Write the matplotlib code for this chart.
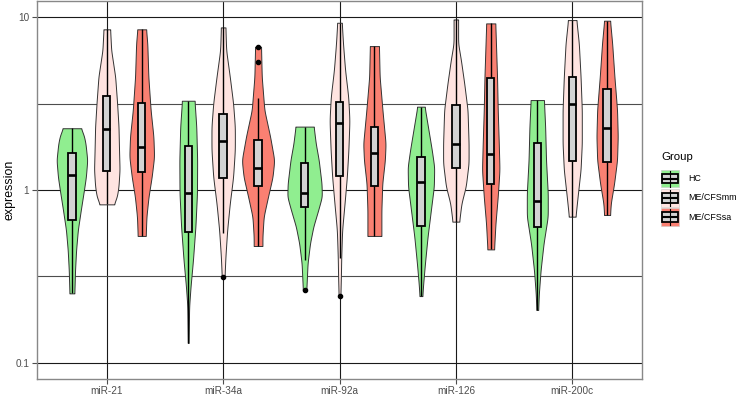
import numpy as np
import matplotlib
matplotlib.use("Agg")
import matplotlib.pyplot as plt
from matplotlib.patches import Rectangle

plt.rcParams['font.family'] = ['Liberation Sans', 'DejaVu Sans']

genes = ["miR-21", "miR-34a", "miR-92a", "miR-126", "miR-200c"]
groups = ["HC", "ME/CFSmm", "ME/CFSsa"]
group_colors = ["#90EE90", "#FFE4E1", "#FA8072"]

# ---- box statistics (per group, one value per gene) ----
hc_lower = [0.252, 0.130, 0.393, 0.243, 0.202]
hc_q1 = [0.67, 0.574, 0.80, 0.619, 0.61]
hc_median = [1.23, 0.965, 0.957, 1.12, 0.863]
hc_q3 = [1.64, 1.80, 1.44, 1.55, 1.88]
hc_upper = [2.28, 3.29, 2.33, 3.04, 3.32]
hc_outliers = [[], [], [0.264], [], []]

mm_lower = [0.826, 0.561, 0.402, 0.656, 0.701]
mm_q1 = [1.29, 1.18, 1.21, 1.35, 1.48]
mm_median = [2.26, 1.93, 2.43, 1.84, 3.15]
mm_q3 = [3.50, 2.74, 3.22, 3.11, 4.53]
mm_upper = [8.53, 8.75, 9.31, 9.73, 9.65]
mm_outliers = [[], [0.315], [0.243], [], []]

sa_lower = [0.542, 0.474, 0.542, 0.453, 0.717]
sa_q1 = [1.27, 1.05, 1.05, 1.08, 1.46]
sa_median = [1.77, 1.35, 1.63, 1.61, 2.30]
sa_q3 = [3.21, 1.95, 2.33, 4.43, 3.85]
sa_upper = [8.53, 3.40, 6.82, 9.23, 9.57]
sa_outliers = [[], [6.70, 5.53], [], [], []]

# ---- violin density profiles: expression levels and relative density ----
hc_levels = [
    [2.28, 2.08, 1.86, 1.49, 1.19, 1.00, 0.766, 0.587, 0.449, 0.344, 0.252],
    [3.29, 2.33, 1.49, 0.957, 0.614, 0.393, 0.275, 0.211, 0.130],
    [2.33, 1.86, 1.49, 1.09, 0.915, 0.766, 0.614, 0.491, 0.376, 0.264],
    [3.04, 2.33, 1.71, 1.36, 1.05, 0.766, 0.537, 0.376, 0.288, 0.243],
    [3.32, 2.33, 1.49, 0.957, 0.701, 0.491, 0.344, 0.252, 0.202],
]
hc_density = [
    [0.51, 0.68, 0.78, 0.88, 0.80, 0.69, 0.51, 0.34, 0.24, 0.18, 0.14],
    [0.36, 0.46, 0.51, 0.50, 0.41, 0.27, 0.13, 0.05, 0.02],
    [0.52, 0.64, 0.81, 0.97, 0.99, 0.78, 0.50, 0.31, 0.17, 0.10],
    [0.21, 0.40, 0.62, 0.76, 0.74, 0.57, 0.38, 0.23, 0.13, 0.08],
    [0.38, 0.45, 0.50, 0.60, 0.60, 0.36, 0.19, 0.09, 0.05],
]
mm_levels = [
    [8.53, 6.47, 4.53, 3.18, 2.33, 1.71, 1.31, 1.05, 0.915, 0.826],
    [8.75, 6.47, 4.53, 3.18, 2.33, 1.71, 1.19, 0.837, 0.587, 0.411, 0.315],
    [9.31, 7.07, 4.95, 3.47, 2.54, 1.71, 1.19, 0.837, 0.587, 0.411, 0.315, 0.243],
    [9.73, 7.07, 5.66, 4.15, 2.91, 1.86, 1.43, 1.05, 0.837, 0.656],
    [9.65, 7.07, 4.53, 2.91, 1.86, 1.31, 0.915, 0.701],
]
mm_density = [
    [0.19, 0.25, 0.48, 0.59, 0.67, 0.70, 0.73, 0.67, 0.58, 0.40],
    [0.13, 0.17, 0.38, 0.57, 0.67, 0.67, 0.57, 0.38, 0.23, 0.13, 0.08],
    [0.13, 0.20, 0.32, 0.50, 0.57, 0.51, 0.42, 0.29, 0.15, 0.10, 0.08, 0.05],
    [0.13, 0.13, 0.29, 0.48, 0.67, 0.73, 0.73, 0.57, 0.32, 0.19],
    [0.24, 0.38, 0.48, 0.55, 0.55, 0.48, 0.31, 0.19],
]
sa_levels = [
    [8.53, 7.07, 4.53, 2.91, 2.04, 1.56, 1.19, 0.915, 0.701, 0.542],
    [6.76, 4.53, 2.91, 2.04, 1.49, 1.19, 0.915, 0.701, 0.537, 0.474],
    [6.82, 4.53, 2.91, 1.86, 1.49, 1.09, 0.766, 0.542],
    [9.23, 6.47, 4.53, 2.91, 1.86, 1.31, 0.915, 0.641, 0.453],
    [9.57, 7.07, 4.53, 2.91, 2.04, 1.49, 1.09, 0.837, 0.717],
]
sa_density = [
    [0.25, 0.32, 0.38, 0.51, 0.67, 0.71, 0.57, 0.39, 0.27, 0.23],
    [0.17, 0.21, 0.36, 0.69, 0.93, 0.83, 0.57, 0.32, 0.25, 0.25],
    [0.26, 0.30, 0.46, 0.64, 0.60, 0.45, 0.40, 0.40],
    [0.26, 0.31, 0.36, 0.40, 0.46, 0.50, 0.40, 0.27, 0.19],
    [0.17, 0.29, 0.42, 0.57, 0.61, 0.57, 0.40, 0.21, 0.17],
]

y_ticks = [0.1, 1, 10]
y_tick_labels = ["0.1", "1", "10"]

stats = [
    (hc_lower, hc_q1, hc_median, hc_q3, hc_upper, hc_outliers, hc_levels, hc_density),
    (mm_lower, mm_q1, mm_median, mm_q3, mm_upper, mm_outliers, mm_levels, mm_density),
    (sa_lower, sa_q1, sa_median, sa_q3, sa_upper, sa_outliers, sa_levels, sa_density),
]

dodge = [-0.3, 0.0, 0.3]
violin_scale = 0.3   # full width for density 1
box_width = 0.063


def smooth_profile(levels, dens):
    lg = np.log10(np.asarray(levels, float))
    d = np.asarray(dens, float)
    o = np.argsort(lg)
    lg, d = lg[o], d[o]
    grid = np.linspace(lg[0], lg[-1], 300)
    w = np.interp(grid, lg, d)
    k = np.exp(-0.5 * (np.arange(-12, 13) / 5.0) ** 2)
    k /= k.sum()
    ws = np.convolve(np.pad(w, 12, mode='edge'), k, mode='valid')
    return 10 ** grid, ws


W, H = 751, 396
fig = plt.figure(figsize=(W / 100, H / 100), dpi=100)
ax = fig.add_axes([37 / W, 17.3 / H, (642 - 37) / W, (395 - 17.3) / H])
ax.set_yscale('log')
ax.set_xlim(0.4, 5.6)
ax.set_ylim(10 ** -1.093, 10 ** 1.095)

# grid
ax.set_yticks(y_ticks)
ax.set_yticklabels(y_tick_labels)
ax.set_yticks([10 ** -0.5, 10 ** 0.5], minor=True)
ax.yaxis.set_minor_formatter(plt.NullFormatter())
ax.set_xticks(np.arange(1, len(genes) + 1))
ax.set_xticklabels(genes)
ax.grid(True, which='major', axis='both', color='#1a1a1a', lw=0.8, zorder=0)
ax.grid(True, which='minor', axis='y', color='#4d4d4d', lw=0.8, zorder=0)
ax.set_axisbelow(True)

for gi, (lo, q1, med, q3, up, outl, levs, dens) in enumerate(stats):
    for j in range(len(genes)):
        xc = j + 1 + dodge[gi]
        yy, ww = smooth_profile(levs[j], dens[j])
        ax.fill_betweenx(yy, xc - ww * violin_scale / 2, xc + ww * violin_scale / 2,
                         facecolor=group_colors[gi], edgecolor='#333333', lw=0.7, zorder=2)
for gi, (lo, q1, med, q3, up, outl, levs, dens) in enumerate(stats):
    for j in range(len(genes)):
        xc = j + 1 + dodge[gi]
        ax.plot([xc, xc], [q3[j], up[j]], color='black', lw=1.0, zorder=3, solid_capstyle='butt')
        ax.plot([xc, xc], [lo[j], q1[j]], color='black', lw=1.0, zorder=3, solid_capstyle='butt')
        ax.add_patch(Rectangle((xc - box_width / 2, q1[j]), box_width, q3[j] - q1[j],
                               facecolor='#D3D3D3', edgecolor='black', lw=1.3, zorder=4))
        ax.plot([xc - box_width / 2, xc + box_width / 2], [med[j], med[j]], color='black',
                lw=1.9, zorder=5, solid_capstyle='butt')
        if outl[j]:
            ax.plot([xc] * len(outl[j]), outl[j], 'o', color='black', ms=3, zorder=5)

for s in ax.spines.values():
    s.set_color('#888888')
    s.set_linewidth(1.0)
ax.tick_params(axis='both', which='major', colors='#4d4d4d', labelcolor='#4d4d4d',
               length=3.5, width=0.8, labelsize=7.2, pad=2)
ax.tick_params(axis='y', which='minor', length=0)
ax.set_ylabel('expression', fontsize=8.9, color='black')
ax.yaxis.set_label_coords(15.5 / W, 1 - 190 / H, transform=fig.transFigure)

# ---- legend drawn in a pixel-space overlay ----
lax = fig.add_axes([0, 0, 1, 1], zorder=10)
lax.set_xlim(0, W)
lax.set_ylim(H, 0)
lax.axis('off')
lax.text(661, 160.5, 'Group', fontsize=8.2, ha='left', va='baseline', color='black')
key_x, key_w, key_h, key_step, key_top = 661, 18, 17.4, 19.2, 170
for i, (lab, col) in enumerate(zip(groups, group_colors)):
    t = key_top + i * key_step
    lax.add_patch(Rectangle((key_x, t), key_w, key_h, facecolor=col,
                            edgecolor='#c8c8c8', lw=0.4))
    cx = key_x + key_w / 2
    lax.plot([cx, cx], [t + 0.8, t + key_h - 0.8], color='black', lw=0.8)
    bt, bb = t + key_h * 0.23, t + key_h * 0.77
    lax.add_patch(Rectangle((key_x + 1.2, bt), key_w - 2.4, bb - bt,
                            facecolor='#D3D3D3', edgecolor='black', lw=1.3))
    lax.plot([key_x + 1.2, key_x + key_w - 1.2], [(bt + bb) / 2] * 2, color='black', lw=1.5,
             solid_capstyle='butt')
    lax.text(688, t + key_h / 2, lab, fontsize=6.4, ha='left', va='center', color='black')

fig.savefig('out.png', dpi=100)
